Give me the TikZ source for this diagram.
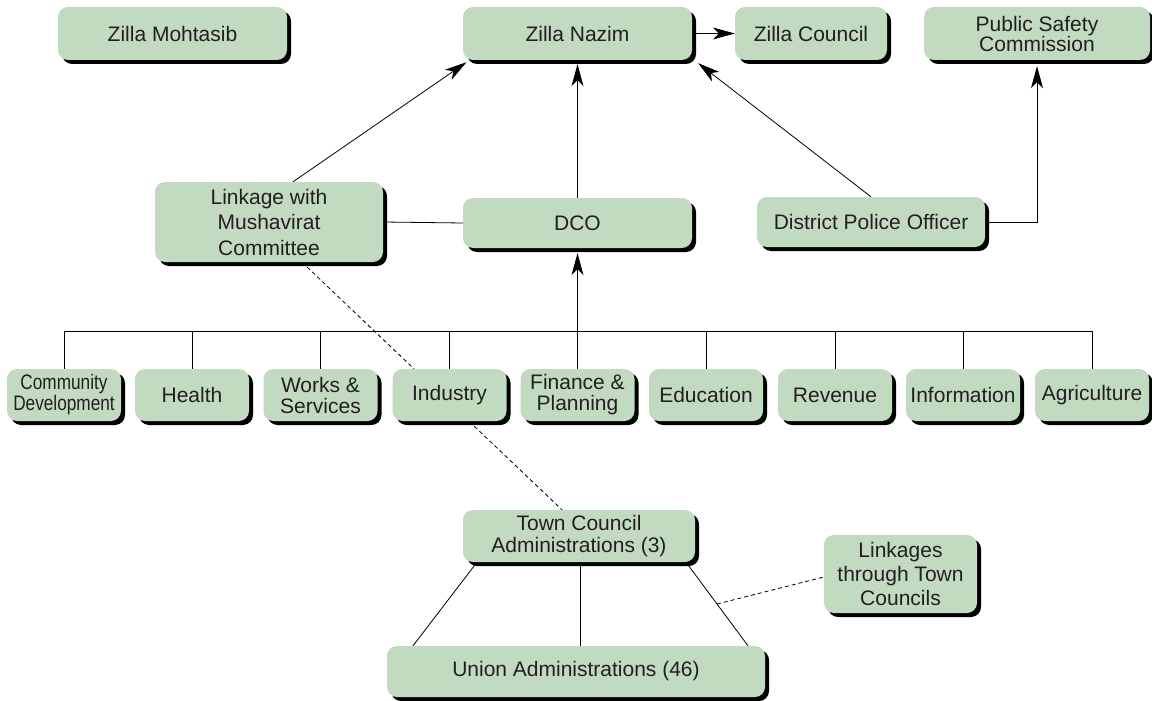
\documentclass[tikz,border=0pt]{standalone}
\usepackage{fontspec}
\usepackage{graphicx}
\setmainfont{Liberation Sans}
\usetikzlibrary{arrows.meta,shadows,calc}
\definecolor{boxfill}{RGB}{193,218,192}
\definecolor{txt}{RGB}{35,31,32}
\pgfdeclarelayer{bg}
\pgfsetlayers{bg,main}
\begin{document}
\begin{tikzpicture}[x=1pt,y=-1pt,
  orgbox/.style={rectangle, rounded corners=10pt, fill=boxfill, draw=none,
    inner sep=0pt, align=center, text=txt,
    font=\fontsize{21}{23}\selectfont,
    drop shadow={shadow xshift=4pt, shadow yshift=-4pt, fill=black, opacity=1}},
  conn/.style={line width=0.8pt, black},
  arr/.style={conn, -{Stealth[length=22pt, width=12pt, inset=6pt]}},
  dashconn/.style={conn, dash pattern=on 4pt off 3pt}
]
\useasboundingbox (0,0) rectangle (1152,701);

% top row
\node[orgbox, minimum width=229pt, minimum height=53pt] (mohtasib) at (172.5,33.5) {Zilla Mohtasib};
\node[orgbox, minimum width=229pt, minimum height=53pt] (nazim) at (577.5,33.5) {Zilla Nazim};
\node[orgbox, minimum width=152pt, minimum height=53pt] (council) at (811,33.5) {Zilla Council};
\node[orgbox, minimum width=226pt, minimum height=53pt, font=\fontsize{21}{20}\selectfont] (psc) at (1037,33.5) {Public Safety\\Commission};

% middle row
\node[orgbox, minimum width=228pt, minimum height=80pt, font=\fontsize{21}{25.5}\selectfont] (linkage) at (269,222) {Linkage with\\Mushavirat\\Committee};
\node[orgbox, minimum width=229pt, minimum height=50pt] (dco) at (577.5,223) {DCO};
\node[orgbox, minimum width=228pt, minimum height=50pt] (dpo) at (871,222) {District Police Officer};

% departments
\node[orgbox, minimum width=114pt, minimum height=52pt, font=\fontsize{21}{20}\selectfont] (d1) at (64,395) {\scalebox{0.82}[1]{\begin{tabular}{@{}c@{}}Community\\Development\end{tabular}}};
\node[orgbox, minimum width=114pt, minimum height=52pt] (d2) at (192,395) {Health};
\node[orgbox, minimum width=114pt, minimum height=52pt, font=\fontsize{21}{21}\selectfont] (d3) at (320.5,395) {Works \&\\Services};
\node[orgbox, minimum width=114pt, minimum height=52pt] (d4) at (449.5,395) {Industry};
\node[orgbox, minimum width=114pt, minimum height=52pt, font=\fontsize{21}{21}\selectfont] (d5) at (577.5,395) {Finance \&\\Planning};
\node[orgbox, minimum width=114pt, minimum height=52pt] (d6) at (706,395) {Education};
\node[orgbox, minimum width=114pt, minimum height=52pt] (d7) at (835,395) {Revenue};
\node[orgbox, minimum width=114pt, minimum height=52pt] (d8) at (963,395) {Information};
\node[orgbox, minimum width=114pt, minimum height=52pt] (d9) at (1092,395) {Agriculture};

% lower part
\node[orgbox, minimum width=232pt, minimum height=52pt, font=\fontsize{21}{22}\selectfont] (town) at (579,536) {Town Council\\Administrations (3)};
\node[orgbox, minimum width=378pt, minimum height=51pt] (union) at (576,671.5) {Union Administrations (46)};
\node[orgbox, minimum width=153pt, minimum height=78pt, font=\fontsize{21}{24}\selectfont] (linkages) at (900.5,574) {Linkages\\through Town\\Councils};

\begin{pgfonlayer}{bg}
% connectors to Zilla Nazim
\draw[arr] ([xshift=24pt]linkage.north) -- ([xshift=-111pt, yshift=-2pt]nazim.south);
\draw[arr, shorten >=4pt] (dco.north) -- (nazim.south);
\draw[arr] (dpo.north) -- ([xshift=6pt, yshift=-3pt]nazim.south east);
\draw[arr] (nazim.east) -- (council.west);
\draw[arr, shorten >=6pt] (dpo.east) -| (psc.south);
\draw[conn] (linkage.east) -- (dco.west);

% department bus
\coordinate (bus) at (577.5,331);
\draw[conn] (d1.north |- bus) -- (d9.north |- bus);
\foreach \d in {d1,d2,d3,d4,d6,d7,d8,d9}{
  \draw[conn] (\d.north) -- (\d.north |- bus);
}
\draw[arr, shorten >=5pt] (d5.north) -- (dco.south);

% dashed linkage
\draw[dashconn] ([xshift=33pt]linkage.south) -- ([xshift=-17pt]town.north);

% town to union
\draw[conn] ([xshift=-102pt]town.south) -- ([xshift=-163pt]union.north);
\draw[conn] ([xshift=1pt]town.south) -- ([xshift=4pt]union.north);
\draw[conn] ([xshift=107pt]town.south) -- coordinate[pos=0.5] (tmid) ([xshift=172pt]union.north);
\draw[dashconn] (tmid) -- ([yshift=-3pt]linkages.west);
\end{pgfonlayer}
\end{tikzpicture}
\end{document}
